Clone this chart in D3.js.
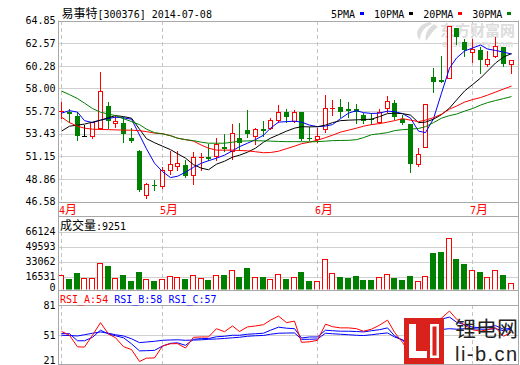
<!DOCTYPE html>
<html>
<head>
<meta charset="utf-8">
<script src="https://cdn.jsdelivr.net/npm/d3@7"></script>
<style>
body { margin: 0; background: #fff; }
svg text { font-family: "DejaVu Sans Mono", monospace; font-size: 10px; }
svg .cjk { font-family: "Noto Sans CJK SC", sans-serif; font-size: 12px; }
</style>
</head>
<body>
<div id="chart"></div>
<script>
// trading days shown (2014-04-14 .. 2014-07-08)
const dates = [
  "04-14","04-15","04-16","04-17","04-18","04-21","04-22","04-23","04-24","04-25","04-28","04-29","04-30",
  "05-05","05-06","05-07","05-08","05-09","05-12","05-13","05-14","05-15","05-16","05-19","05-20","05-21","05-22","05-23","05-26","05-27","05-28","05-29","05-30",
  "06-03","06-04","06-05","06-06","06-09","06-10","06-11","06-12","06-13","06-16","06-17","06-18","06-19","06-20","06-23","06-24","06-25","06-26","06-27","06-30",
  "07-01","07-02","07-03","07-04","07-07","07-08"
];
const openP = [55.70,55.64,55.21,53.15,53.18,53.96,56.22,54.47,54.53,53.01,51.69,47.28,48.22,48.15,49.81,50.18,50.22,49.23,50.99,51.03,51.19,52.04,51.66,52.95,53.79,53.18,53.86,53.96,54.80,55.58,54.73,55.58,53.01,52.85,53.86,55.88,56.09,55.88,55.91,55.31,54.90,54.63,55.99,56.55,54.90,54.37,50.32,52.04,59.18,58.85,59.02,64.08,62.69,61.70,61.88,60.47,61.28,62.22,60.44];
const highP = [56.65,55.91,55.58,54.29,54.60,59.63,56.65,55.31,55.14,53.96,51.75,48.46,48.80,50.07,51.66,51.69,50.82,51.59,51.46,52.44,52.95,53.38,54.37,54.53,55.81,54.02,54.73,54.97,56.32,55.88,55.81,55.61,54.12,53.96,57.33,56.82,56.90,56.65,56.42,55.54,55.54,55.88,57.23,56.82,55.31,54.40,51.94,56.40,60.03,61.31,64.30,64.08,63.00,63.00,62.22,61.83,63.20,62.22,60.87];
const lowP = [55.00,54.63,52.78,53.15,53.01,53.86,53.96,54.12,52.60,52.57,47.62,46.98,47.72,47.95,49.34,49.74,49.06,48.39,49.74,50.75,50.75,51.69,50.92,51.76,53.11,52.44,53.18,53.86,54.63,54.63,54.63,52.80,52.78,52.60,53.62,55.31,55.07,55.14,54.47,54.53,54.40,54.47,55.64,54.87,54.40,49.57,50.18,52.04,57.67,58.68,59.02,62.46,61.25,60.70,59.61,60.32,61.23,60.27,59.53];
const closeP = [55.74,55.38,53.15,53.15,54.57,57.74,54.70,54.70,53.38,52.71,47.79,48.32,48.12,49.74,50.32,50.52,49.13,51.09,51.12,50.88,52.44,51.84,53.52,52.50,53.38,53.86,53.72,54.80,55.64,55.07,55.64,52.88,52.95,53.21,55.99,55.99,55.64,55.74,55.64,54.73,54.80,55.64,56.75,55.07,54.47,50.35,51.43,56.40,58.62,58.68,64.30,63.23,61.93,61.95,60.87,60.97,62.34,60.45,60.87];

const ma5 = [55.51,55.76,55.61,54.75,54.55,54.80,54.97,55.10,55.03,54.90,53.30,51.90,50.45,49.60,49.00,49.13,49.54,50.04,50.45,50.70,50.96,51.26,51.71,52.12,52.47,52.83,53.28,53.99,54.60,54.65,54.70,54.60,54.30,54.14,54.20,54.35,54.95,55.51,55.76,55.56,55.48,55.51,55.71,55.66,55.46,55.00,53.69,53.54,54.95,57.53,60.06,61.08,61.78,62.09,62.39,61.99,61.84,61.68,61.48];
const ma10 = [53.69,54.19,54.30,54.40,54.60,54.80,55.05,55.26,55.16,55.00,53.89,52.93,52.52,52.17,51.82,51.41,50.96,50.30,49.94,49.79,50.35,50.65,51.06,51.26,51.56,51.97,52.57,52.98,53.33,53.69,53.99,54.14,54.12,54.14,54.30,54.55,54.75,54.80,54.83,54.86,54.90,55.16,55.46,55.51,55.46,55.31,54.55,54.60,54.90,55.36,56.02,56.83,57.74,58.39,59.05,59.76,60.57,61.18,61.53];
const ma20 = [55.10,54.55,54.19,53.99,53.89,53.86,53.84,53.82,53.79,53.79,53.74,53.64,53.49,53.44,53.23,52.98,52.83,52.68,52.27,51.97,51.77,51.77,51.77,51.73,51.70,51.61,51.51,51.53,51.66,51.92,52.17,52.42,52.57,52.78,53.03,53.28,53.59,53.79,53.99,54.19,54.35,54.45,54.60,54.75,54.95,54.80,54.65,54.80,55.05,55.41,55.91,56.22,56.62,56.88,57.08,57.33,57.64,57.94,58.24];
const ma30 = [57.74,57.38,56.98,56.52,55.97,55.61,55.41,55.26,54.95,54.65,54.35,53.89,53.54,53.41,53.23,52.98,52.83,52.73,52.57,52.47,52.47,52.47,52.57,52.68,52.70,52.72,52.71,52.68,52.65,52.63,52.63,52.62,52.61,52.63,52.68,52.73,52.75,52.76,52.83,53.03,53.33,53.43,53.54,53.74,53.84,53.89,53.96,54.14,54.55,55.00,55.26,55.41,55.71,55.97,56.32,56.57,56.78,56.98,57.18];

const volume = [18073,13995,20938,15097,15097,31627,28321,15097,18403,12122,22040,13995,12122,13995,16971,15869,13995,18073,15097,12893,18073,18403,23913,16530,26448,15869,16199,13665,19505,14326,16199,22040,12122,11791,35705,20607,16199,15097,17301,12893,12893,15869,19505,15097,12893,17301,11461,16971,42978,44080,59177,36035,30525,23913,22040,16199,23913,18403,9251];

const rsiA = [54.8,51,39.5,39.3,51,63.5,52.2,48.5,39.7,36.8,25,28.3,28.5,40.3,42.6,42.7,38.3,49,49.3,49.3,57.5,54.5,60.2,54.7,59.3,60.2,61.5,66,70,63.5,65,44,44.5,46,62,59.5,58.3,58.3,57.5,55,57,61,66,54,44,31,36,54,66,68,75,67,61,56.5,55,56.5,58.5,50,54];
const rsiB = [52.7,52.5,45.5,45.5,49,56,52.2,50.5,48.5,42.5,35.5,35.7,36,40.3,43,43.5,41,47,47.7,47.7,49.5,50,51,51,52,52.5,53,56,59,58,57.5,48.3,49.3,49.3,56,55.5,55,55,54.7,54.3,55.5,56.5,58.3,50.5,46,39,41,51,61,67,69,64,61.5,59,58.5,59,60.5,57,58];
const rsiC = [51,50.7,50.3,51.5,53,54.3,53,51.5,50.3,47.5,43.7,44.3,45,46,46.3,46.5,46,46.2,46.5,47,47.3,47.8,48.5,49,50,50.5,50.8,52,53,53.2,53.3,47,47,47.3,53,52.5,52,51.5,51,50.7,51.5,52.5,53.3,49.3,46.5,42,43,49,54,56.7,57.5,57,57.5,57.5,57,57,57.5,55.5,57];

const priceTicks = [46.58,48.86,51.15,53.43,55.72,58.00,60.28,62.57,64.85];
const volTicks = [0,16531,33062,49593,66124];
const rsiTicks = [21,51,81];
const maNames = ["5PMA","10PMA","20PMA","30PMA"];
const maColors = ["#0000ff","#000000","#ff0000","#008000"];

const UP = "#ff0000", DOWN = "#008000", GRID = "#d0d0d0", FRAME = "#a8a8a8";

const rows = dates.map((d, i) => ({
  date: d, o: openP[i], h: highP[i], l: lowP[i], c: closeP[i], v: volume[i],
  pc: i ? closeP[i - 1] : null
}));
function tone(d) {
  if (d.c > d.o) return "up";
  if (d.c < d.o) return "down";
  if (d.pc == null || d.c > d.pc) return "up";
  if (d.c < d.pc) return "down";
  return "flat";
}
const toneColor = { up: UP, down: DOWN, flat: "#000" };

const svg = d3.select("#chart").append("svg")
  .attr("width", 520).attr("height", 365);
svg.append("rect").attr("width", 520).attr("height", 365).attr("fill", "#fff");

const left = 58.5, right = 518.5;

const x = d3.scaleBand().domain(dates).range([57.125, 514.375]).padding(0);
const cx = d => Math.round(x(d) + x.bandwidth() / 2);

const y = d3.scaleLinear().domain([46.58, 64.85]).range([201.5, 20.7]);
const yv = d3.scaleLinear().domain([0, 66124]).range([291.7, 231.7]);
const yr = d3.scaleLinear().domain([21, 81]).range([365.5, 305]);

const defs = svg.append("defs");
defs.append("clipPath").attr("id", "clipMain").append("rect")
  .attr("x", 59).attr("y", 21).attr("width", 459).attr("height", 180);
defs.append("clipPath").attr("id", "clipVol").append("rect")
  .attr("x", 59).attr("y", 232).attr("width", 459).attr("height", 57.5);
defs.append("clipPath").attr("id", "clipRsi").append("rect")
  .attr("x", 59).attr("y", 305).attr("width", 459).attr("height", 59);

// mixed CJK / latin text
function mixed(sel, str) {
  const runs = str.match(/[\u4e00-\u9fff]+|[^\u4e00-\u9fff]+/g);
  runs.forEach(r => {
    sel.append("tspan").attr("class", /[\u4e00-\u9fff]/.test(r) ? "cjk" : null).text(r);
  });
  return sel;
}

// horizontal grid lines
function hgrid(scale, ticks) {
  svg.append("g").selectAll("line").data(ticks).join("line")
    .attr("x1", left).attr("x2", right)
    .attr("y1", d => Math.round(scale(d)) + 0.5)
    .attr("y2", d => Math.round(scale(d)) + 0.5)
    .attr("stroke", GRID);
}
hgrid(y, priceTicks.slice(1, -1));
hgrid(yv, volTicks.slice(1));
hgrid(yr, [51]);

// month separators
const monthStarts = dates.filter((d, i) => i === 0 || d.slice(0, 2) !== dates[i - 1].slice(0, 2));
[[21, 201], [232, 290], [305, 364]].forEach(([y0, y1]) => {
  svg.append("g").selectAll("line").data(monthStarts).join("line")
    .attr("x1", d => cx(d) + 0.5).attr("x2", d => cx(d) + 0.5)
    .attr("y1", y0).attr("y2", y1)
    .attr("stroke", "#c4c4c4").attr("stroke-dasharray", "4,3");
});

// frame
[20.7, 201.5, 215.7, 290, 304.5, 364].forEach(v => {
  svg.append("line").attr("x1", left).attr("x2", right)
    .attr("y1", Math.round(v) + 0.5).attr("y2", Math.round(v) + 0.5).attr("stroke", FRAME);
});
[left, right].forEach(v => {
  svg.append("line").attr("x1", v).attr("x2", v).attr("y1", 20.5).attr("y2", 365).attr("stroke", FRAME);
});

// watermark
const wm = svg.append("g").attr("fill", "#dcdcdc");
wm.append("path").attr("d", "M430,22 C418,24 414,34 420,40 C420,33 424,27 432,24 Z M434,24 C428,28 424,35 426,41 C430,36 433,30 438,27 Z");
wm.append("text").attr("x", 440).attr("y", 36).style("font-family", "Noto Sans CJK SC").style("font-size", "15px").style("font-weight", "bold").text("东方财富网");
wm.append("text").attr("x", 442).attr("y", 46.5).style("font-family", "Liberation Sans").style("font-size", "9px").style("font-weight", "bold")
  .attr("textLength", 71).text("eastmoney.com");

// candles
const cg = svg.append("g").attr("clip-path", "url(#clipMain)");
const py = v => Math.round(y(v));
cg.selectAll(".wick").data(rows).join("line")
  .attr("x1", d => cx(d.date) + 0.5).attr("x2", d => cx(d.date) + 0.5)
  .attr("y1", d => py(d.h)).attr("y2", d => py(d.l) + 1)
  .attr("stroke", d => toneColor[tone(d)]);
cg.selectAll(".body").data(rows).join("rect")
  .each(function (d) {
    const t = tone(d), r = d3.select(this), x0 = cx(d.date) - 2;
    const top = Math.min(py(d.o), py(d.c)), bot = Math.max(py(d.o), py(d.c));
    if (t === "up" && bot - top >= 2) {
      r.attr("x", x0 + 0.5).attr("y", top + 0.5).attr("width", 4).attr("height", bot - top)
        .attr("fill", "#fff").attr("stroke", UP);
    } else {
      r.attr("x", x0).attr("y", top).attr("width", 5).attr("height", Math.max(1, bot - top))
        .attr("fill", toneColor[t]);
    }
  });

// moving averages
const maSeries = [ma5, ma10, ma20, ma30];
maSeries.forEach((s, k) => {
  cg.append("path").datum(s)
    .attr("fill", "none").attr("stroke", maColors[k]).attr("stroke-width", 1)
    .attr("d", d3.line().x((v, i) => cx(dates[i]) + 0.5).y(v => y(v)));
});

// volume bars
const vg = svg.append("g").attr("clip-path", "url(#clipVol)");
vg.selectAll("rect").data(rows).join("rect")
  .each(function (d) {
    const r = d3.select(this), x0 = cx(d.date) - 3, top = Math.round(yv(d.v));
    if (tone(d) === "down") {
      r.attr("x", x0).attr("y", top).attr("width", 6).attr("height", 292 - top).attr("fill", DOWN);
    } else {
      r.attr("x", x0 + 0.5).attr("y", top + 0.5).attr("width", 5).attr("height", 292 - top)
        .attr("fill", "#fff").attr("stroke", UP);
    }
  });

// RSI lines
const rg = svg.append("g").attr("clip-path", "url(#clipRsi)");
[[rsiC, "#0000ff"], [rsiB, "#0000ff"], [rsiA, "#ff0000"]].forEach(([s, col]) => {
  rg.append("path").datum(s)
    .attr("fill", "none").attr("stroke", col).attr("stroke-width", 1)
    .attr("d", d3.line().x((v, i) => cx(dates[i]) + 0.5).y(v => yr(v)));
});

// axes
function leftAxis(scale, ticks, fmt, shift) {
  const g = svg.append("g").attr("transform", `translate(${left},0)`)
    .call(d3.axisLeft(scale).tickValues(ticks).tickSize(0).tickPadding(3).tickFormat(fmt));
  g.attr("font-family", null).attr("font-size", null);
  g.select(".domain").remove();
  g.selectAll("text").attr("fill", "#000")
    .attr("transform", d => shift && shift[d] ? `translate(0,${shift[d]})` : null);
}
leftAxis(y, priceTicks, d3.format(".2f"));
leftAxis(yv, volTicks, d3.format("d"), { 0: -4.5 });
leftAxis(yr, rsiTicks, d3.format("d"), { 21: -5.5 });

// month labels
svg.append("g").selectAll("text").data(monthStarts).join("text")
  .attr("x", d => cx(d) - 2).attr("y", 213.5).attr("fill", UP)
  .each(function (d) { mixed(d3.select(this), (+d.slice(0, 2)) + "月"); });

// titles
mixed(svg.append("text").attr("x", 61.5).attr("y", 17.5).attr("fill", "#000"), "易事特[300376] 2014-07-08");
mixed(svg.append("text").attr("x", 60).attr("y", 229.5).attr("fill", "#000"), "成交量:" + volume[volume.length - 1]);

const rt = svg.append("text").attr("x", 60).attr("y", 302.5).attr("xml:space", "preserve");
rt.append("tspan").attr("fill", UP).text("RSI_A:" + Math.round(rsiA[rsiA.length - 1]) + " ");
rt.append("tspan").attr("fill", "#0000ff").text("RSI_B:" + Math.round(rsiB[rsiB.length - 1]) + " ");
rt.append("tspan").attr("fill", "#0000ff").text("RSI_C:" + Math.round(rsiC[rsiC.length - 1]));

// legend
let lx = 331;
maNames.forEach((n, k) => {
  svg.append("text").attr("x", lx).attr("y", 17.5).attr("fill", "#000").text(n);
  lx += n.length * 6.02 + 4.5;
  svg.append("rect").attr("x", Math.round(lx)).attr("y", 12).attr("width", 4).attr("height", 3).attr("fill", maColors[k]);
  lx += 4 + 10.5;
});

// li-b.cn logo
const lg = svg.append("g");
lg.append("rect").attr("x", 404).attr("y", 318).attr("width", 40).attr("height", 46).attr("fill", "#d9221c");
lg.append("rect").attr("x", 409).attr("y", 324).attr("width", 7).attr("height", 34).attr("fill", "#fff");
lg.append("rect").attr("x", 409).attr("y", 351).attr("width", 18).attr("height", 7).attr("fill", "#fff");
lg.append("rect").attr("x", 430).attr("y", 324).attr("width", 9).attr("height", 34).attr("fill", "#fff");
lg.append("rect").attr("x", 432.5).attr("y", 326.5).attr("width", 4).attr("height", 29).attr("fill", "#d9221c");
lg.append("text").attr("x", 455).attr("y", 336).style("font-family", "Noto Sans CJK SC").style("font-size", "21px")
  .attr("fill", "#222").text("锂电网");
lg.append("text").attr("x", 455).attr("y", 360.5).style("font-family", "Liberation Sans").style("font-size", "20px")
  .attr("textLength", 62).attr("fill", "#222").text("li-b.cn");
</script>
</body>
</html>
